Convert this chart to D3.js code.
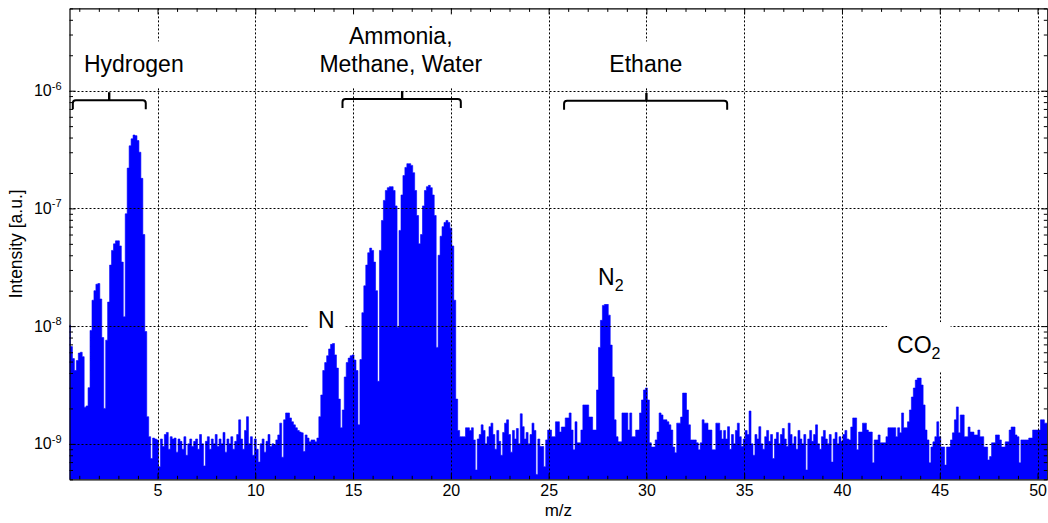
<!DOCTYPE html>
<html>
<head>
<meta charset="utf-8">
<script src="https://cdn.jsdelivr.net/npm/d3@7"></script>
<style>
  body { margin: 0; background: #fff; }
  svg { display: block; }
  text { font-family: "Liberation Sans", Arial, Helvetica, sans-serif; fill: #000; }
</style>
</head>
<body>
<svg id="chart" width="1048" height="523"></svg>
<script>
// Mass spectrum: intensity (in units of 1e-9 a.u.) sampled every 0.1 m/z from 0.5 to 50.5
const mzStart = 0.5;
const mzStep = 0.1;
const intensity = [
  10.2, 6.7, 5.3, 4.2, 5.1,                                   // 0.5 - 0.9
  5.9, 6.0, 5.5, 2.05, 2.1, 3.0, 9.2, 16.6, 20, 22.7,          // 1
  23, 17, 8, 2.0, 7.6, 16, 33, 44, 50, 53,                     // 2
  53, 48, 35, 12, 90, 220, 340, 390, 420, 415,                 // 3
  377, 300, 180, 60, 9, 1.7, 1.15, 0.75, 1.12, 1.1,            // 4
  1.08, 0.64, 1.1, 0.95, 1.2, 1.25, 0.9, 1.15, 1.1, 1.12,      // 5
  0.85, 1.1, 1.05, 0.9, 1.15, 0.8, 1.0, 1.1, 0.95, 1.05,       // 6
  1.1, 0.9, 1.2, 1.0, 0.65, 1.05, 1.15, 0.9, 1.1, 1.0,         // 7
  1.2, 0.95, 1.1, 1.0, 1.25, 0.85, 1.1, 1.0, 1.15, 0.9,        // 8
  1.05, 1.2, 1.6, 1.1, 0.9, 1.3, 1.7, 1.0, 1.15, 0.8,          // 9
  1.1, 0.9, 0.7, 1.0, 1.1, 0.85, 1.05, 1.2, 0.95, 1.0,         // 10
  0.98, 1.08, 1.19, 1.5, 0.77, 1.6, 1.83, 1.83, 1.66, 1.54,    // 11
  1.45, 1.37, 1.3, 1.26, 1.24, 0.86, 1.19, 1.12, 1.04, 1.08,   // 12
  1.08, 1.04, 1.12, 1.7, 2.6, 4.2, 4.9, 5.6, 6.4, 7.0,         // 13
  7.2, 5.7, 4.4, 2.4, 1.37, 1.94, 3.7, 4.9, 5.35, 5.6,         // 14
  5.7, 5.15, 4.2, 1.45, 5.2, 13, 22, 33, 42, 46,               // 15
  44, 35, 20, 3.4, 44, 79, 117, 142, 150, 153,                 // 16
  153, 142, 105, 9.8, 65, 130, 190, 223, 240, 240,             // 17
  232, 201, 142, 87, 50, 60, 105, 142, 153, 157,               // 18
  150, 130, 87, 6.6, 40, 58, 70, 76, 79, 76,                   // 19
  68, 48, 16.6, 2.4, 1.3, 1.15, 1.15, 1.15, 1.37, 1.37,        // 20
  1.3, 1.37, 1.08, 0.6, 1.1, 1.2, 1.45, 1.3, 1.0, 1.15,        // 21
  1.4, 1.5, 1.2, 0.9, 1.3, 1.05, 0.8, 1.25, 1.5, 1.6,          // 22
  1.2, 0.85, 1.3, 1.1, 1.35, 1.0, 1.8, 1.4, 1.1, 1.25,         // 23
  1.0, 1.2, 1.5, 1.3, 0.55, 1.1, 0.95, 0.95, 0.64, 1.08,       // 24
  1.31, 1.31, 1.15, 1.15, 1.54, 1.54, 1.26, 1.39, 1.39, 1.66,  // 25
  1.66, 1.83, 1.31, 0.89, 1.54, 1.02, 1.02, 1.31, 2.14, 2.14,  // 26
  2.14, 1.69, 1.69, 1.31, 1.31, 2.87, 6.6, 11.2, 15, 16,       // 27
  16, 12.4, 6.9, 3.7, 1.6, 1.15, 1.04, 1.04, 1.83, 1.83,       // 28
  1.83, 1.31, 1.83, 1.15, 1.15, 1.31, 1.31, 1.83, 2.36, 2.87,  // 29
  2.98, 2.36, 1.02, 0.94, 0.94, 1.08, 1.26, 1.83, 1.76, 1.6,   // 30
  1.6, 1.54, 1.45, 1.31, 0.94, 0.84, 1.5, 1.5, 1.69, 2.7,      // 31
  2.7, 1.94, 1.45, 1.08, 1.08, 1.08, 1.02, 0.89, 1.02, 1.6,    // 32
  1.5, 1.5, 1.31, 1.31, 0.89, 0.89, 1.5, 1.5, 1.3, 1.1,        // 33
  1.3, 1.1, 1.4, 0.9, 1.2, 1.0, 1.3, 1.5, 1.15, 0.95,          // 34
  1.1, 1.3, 1.2, 1.9, 1.0, 0.8, 1.2, 1.1, 1.4, 1.0,            // 35
  0.9, 1.15, 1.3, 1.05, 1.2, 0.75, 1.1, 1.25, 1.0, 1.2,        // 36
  1.35, 1.1, 0.95, 1.5, 1.2, 1.0, 1.15, 0.9, 1.3, 1.1,         // 37
  1.0, 1.2, 0.6, 1.1, 1.3, 1.05, 1.2, 1.45, 1.0, 0.9,          // 38
  1.15, 1.3, 1.1, 1.0, 1.2, 0.7, 1.1, 1.25, 1.0, 1.15,         // 39
  1.05, 1.2, 1.3, 1.1, 1.08, 1.39, 1.66, 1.66, 0.89, 1.26,     // 40
  1.26, 1.5, 1.5, 1.31, 1.26, 1.26, 0.69, 1.08, 1.08, 1.19,    // 41
  1.02, 1.02, 1.02, 1.15, 1.37, 1.37, 1.37, 1.37, 1.15, 1.37,  // 42
  1.24, 1.83, 1.37, 1.37, 1.54, 1.94, 2.5, 2.98, 3.48, 3.62,   // 43
  3.62, 3.16, 2.14, 1.31, 1.08, 0.69, 0.94, 1.04, 1.15, 1.54,  // 44
  1.15, 0.94, 0.94, 0.66, 0.94, 0.94, 1.08, 1.24, 1.6, 2.06,   // 45
  1.24, 1.76, 1.76, 1.15, 1.15, 1.39, 1.26, 1.26, 1.19, 1.19,  // 46
  1.31, 1.15, 1.15, 0.94, 0.94, 0.73, 0.78, 1.02, 1.02, 1.19,  // 47
  1.19, 1.08, 0.94, 0.94, 1.04, 1.04, 1.31, 1.39, 1.39, 1.19,  // 48
  1.15, 0.69, 1.08, 1.08, 1.08, 1.08, 1.12, 1.12, 1.31, 1.31,  // 49
  1.31, 1.31, 1.6, 1.6, 1.5, 1.5                               // 50.0 - 50.5
];
const intensityUnit = 1e-9;

// Axis ticks
const xTicks = [5, 10, 15, 20, 25, 30, 35, 40, 45, 50];
const xMinorTicks = [1, 2, 3, 4, 6, 7, 8, 9, 11, 12, 13, 14, 16, 17, 18, 19, 21, 22, 23, 24,
  26, 27, 28, 29, 31, 32, 33, 34, 36, 37, 38, 39, 41, 42, 43, 44, 46, 47, 48, 49];
const yDecades = [-9, -8, -7, -6];
const yDomain = [5e-10, 5e-6];
const yMinorTicks = [];
[-10, -9, -8, -7, -6].forEach(e => {
  for (let k = 2; k <= 9; k++) {
    const v = k * Math.pow(10, e);
    if (v >= yDomain[0] * 0.999 && v <= yDomain[1] * 1.001) yMinorTicks.push(v);
  }
});

// Group annotations: text lines, text anchor (m/z, intensity), bracket span and level
const groupNames = [["Hydrogen"], ["Ammonia,", "Methane, Water"], ["Ethane"]];
const groupTextAt = [[3.79, 1.43e-6], [17.44, 1.43e-6], [29.97, 1.43e-6]];
const groupBrackets = [[0.67, 2.53, 4.40, 8.3e-7], [14.46, 17.51, 20.51, 8.5e-7], [25.79, 30.0, 34.13, 8.2e-7]];

// Peak labels: formula, subscript, anchor (m/z, intensity)
const peakNames = ["N", "N", "CO"];
const peakSubs = ["", "2", "2"];
const peakAt = [[13.63, 9.6e-9], [28.18, 2.23e-8], [43.93, 5.9e-9]];

const plot = { left: 69.5, right: 1047.3, top: 8.4, bottom: 479.3 };

const svg = d3.select("#chart");

const x = d3.scaleLinear()
  .domain([mzStart, mzStart + (intensity.length - 1) * mzStep])
  .range([plot.left, plot.right]);
const y = d3.scaleLog()
  .domain(yDomain)
  .range([plot.bottom, plot.top]);

const spectrum = intensity.map((v, i) => ({ mz: mzStart + i * mzStep, v: v * intensityUnit }));

svg.append("defs").append("clipPath").attr("id", "plotClip")
  .append("rect")
  .attr("x", plot.left).attr("y", plot.top)
  .attr("width", plot.right - plot.left).attr("height", plot.bottom - plot.top);

// Spectrum fill
const area = d3.area()
  .x(d => x(d.mz))
  .y0(plot.bottom)
  .y1(d => y(d.v))
  .curve(d3.curveStep);

svg.append("g").attr("clip-path", "url(#plotClip)")
  .append("path")
  .datum(spectrum)
  .attr("d", area)
  .attr("fill", "#0000ff")
  .attr("stroke", "#0000ff")
  .attr("stroke-width", 0.6);

// Dotted grid
const grid = svg.append("g").attr("stroke", "#000").attr("stroke-width", 1)
  .attr("stroke-dasharray", "2,2").attr("fill", "none");
grid.selectAll("line.gx").data(xTicks).join("line")
  .attr("x1", d => Math.round(x(d)) + 0.5).attr("x2", d => Math.round(x(d)) + 0.5)
  .attr("y1", plot.top).attr("y2", plot.bottom);
grid.selectAll("line.gy").data(yDecades).join("line")
  .attr("y1", d => Math.round(y(Math.pow(10, d))) + 0.5).attr("y2", d => Math.round(y(Math.pow(10, d))) + 0.5)
  .attr("x1", plot.left).attr("x2", plot.right);

// Layers: white label backgrounds, axes frame, annotations
const boxLayer = svg.append("g");
const axisLayer = svg.append("g");
const annoLayer = svg.append("g");

function styleAxis(g) {
  g.selectAll("path.domain").attr("stroke", "#000").attr("stroke-width", 1.2);
  g.selectAll(".tick line").attr("stroke", "#000").attr("stroke-width", 1);
}

const tickFont = 16;

// Bottom axis
axisLayer.append("g").attr("transform", `translate(0,${plot.bottom})`)
  .call(d3.axisBottom(x).tickValues(xTicks).tickSizeInner(-6).tickSizeOuter(0).tickPadding(5))
  .call(styleAxis)
  .call(g => g.selectAll("text").attr("font-size", tickFont).attr("font-family", null));
axisLayer.append("g").attr("transform", `translate(0,${plot.bottom})`)
  .call(d3.axisBottom(x).tickValues(xMinorTicks).tickSizeInner(-3.5).tickSizeOuter(0).tickFormat(""))
  .call(styleAxis).call(g => g.select("path.domain").remove());

// Top axis
axisLayer.append("g").attr("transform", `translate(0,${plot.top})`)
  .call(d3.axisTop(x).tickValues(xTicks).tickSizeInner(-6).tickSizeOuter(0).tickFormat(""))
  .call(styleAxis);
axisLayer.append("g").attr("transform", `translate(0,${plot.top})`)
  .call(d3.axisTop(x).tickValues(xMinorTicks).tickSizeInner(-3.5).tickSizeOuter(0).tickFormat(""))
  .call(styleAxis).call(g => g.select("path.domain").remove());

// Left axis with 10^n labels
const yMajor = yDecades.map(e => Math.pow(10, e));
axisLayer.append("g").attr("transform", `translate(${plot.left},0)`)
  .call(d3.axisLeft(y).tickValues(yMajor).tickSizeInner(-6).tickSizeOuter(0).tickPadding(8))
  .call(styleAxis)
  .call(g => g.selectAll(".tick text").each(function (d) {
    const t = d3.select(this).text(null).attr("font-size", tickFont).attr("font-family", null);
    t.append("tspan").text("10");
    t.append("tspan").attr("dy", "-0.6em").attr("font-size", 11)
      .text("-" + Math.abs(Math.round(Math.log10(d))));
  }));
axisLayer.append("g").attr("transform", `translate(${plot.left},0)`)
  .call(d3.axisLeft(y).tickValues(yMinorTicks).tickSizeInner(-3.5).tickSizeOuter(0).tickFormat(""))
  .call(styleAxis).call(g => g.select("path.domain").remove());

// Right axis
axisLayer.append("g").attr("transform", `translate(${plot.right},0)`)
  .call(d3.axisRight(y).tickValues(yMajor).tickSizeInner(-6).tickSizeOuter(0).tickFormat(""))
  .call(styleAxis);
axisLayer.append("g").attr("transform", `translate(${plot.right},0)`)
  .call(d3.axisRight(y).tickValues(yMinorTicks).tickSizeInner(-3.5).tickSizeOuter(0).tickFormat(""))
  .call(styleAxis).call(g => g.select("path.domain").remove());

// Axis titles
annoLayer.append("text")
  .attr("x", (plot.left + plot.right) / 2).attr("y", 516)
  .attr("text-anchor", "middle").attr("font-size", 17)
  .text("m/z");
annoLayer.append("text")
  .attr("transform", `translate(22,${(plot.top + plot.bottom) / 2}) rotate(-90)`)
  .attr("text-anchor", "middle").attr("font-size", 17.5)
  .text("Intensity [a.u.]");

const pad = 10;
function addBox(textNode) {
  const b = textNode.getBBox();
  boxLayer.append("rect")
    .attr("x", b.x - pad).attr("y", b.y - pad)
    .attr("width", b.width + 2 * pad).attr("height", b.height + 2 * pad)
    .attr("fill", "#fff");
}

// Group labels with brackets
const lineGap = 28.4;
groupNames.forEach((lines, i) => {
  const [mz, lvl] = groupTextAt[i];
  const t = annoLayer.append("text")
    .attr("text-anchor", "middle").attr("font-size", 23);
  lines.forEach((s, j) => {
    t.append("tspan")
      .attr("x", x(mz))
      .attr("y", y(lvl) - (lines.length - 1 - j) * lineGap)
      .text(s);
  });
  addBox(t.node());

  const [a, m, b, level] = groupBrackets[i];
  const x1 = x(a), xm = x(m), x2 = x(b), yb = y(level);
  const r = 3;
  annoLayer.append("path")
    .attr("d", `M${x1},${yb + 9} L${x1},${yb + r} Q${x1},${yb} ${x1 + r},${yb} L${x2 - r},${yb} Q${x2},${yb} ${x2},${yb + r} L${x2},${yb + 9}`)
    .attr("fill", "none").attr("stroke", "#000").attr("stroke-width", 2);
  annoLayer.append("line")
    .attr("x1", xm).attr("x2", xm).attr("y1", yb).attr("y2", yb - 8)
    .attr("stroke", "#000").attr("stroke-width", 2.4);
});

// Peak labels
peakNames.forEach((name, i) => {
  const [mz, lvl] = peakAt[i];
  const t = annoLayer.append("text")
    .attr("x", x(mz)).attr("y", y(lvl))
    .attr("text-anchor", "middle").attr("font-size", 23);
  t.append("tspan").text(name);
  if (peakSubs[i]) t.append("tspan").attr("dy", 6).attr("font-size", 16).text(peakSubs[i]);
  addBox(t.node());
});
</script>
</body>
</html>
